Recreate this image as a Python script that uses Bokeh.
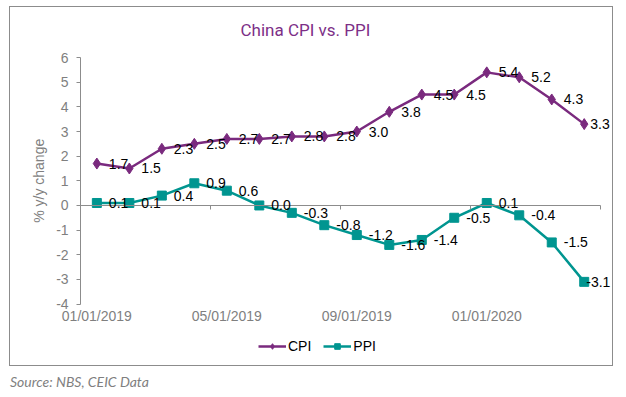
import math
from bokeh.plotting import figure
from bokeh.models import (ColumnDataSource, Range1d, FixedTicker, LinearAxis, Legend,
                          LegendItem, Div, LabelSet, Label)
from bokeh.layouts import column
from bokeh.embed import file_html
from bokeh.resources import INLINE
from bokeh.core.properties import value

# ---- data ----
months = ["2019-01", "2019-02", "2019-03", "2019-04", "2019-05", "2019-06", "2019-07", "2019-08",
          "2019-09", "2019-10", "2019-11", "2019-12", "2020-01", "2020-02", "2020-03", "2020-04"]
cpi = [1.7, 1.5, 2.3, 2.5, 2.7, 2.7, 2.8, 2.8, 3.0, 3.8, 4.5, 4.5, 5.4, 5.2, 4.3, 3.3]
ppi = [0.1, 0.1, 0.4, 0.9, 0.6, 0.0, -0.3, -0.8, -1.2, -1.6, -1.4, -0.5, 0.1, -0.4, -1.5, -3.1]
x_tick_labels = ["01/01/2019", "05/01/2019", "09/01/2019", "01/01/2020"]
y_ticks = [-4, -3, -2, -1, 0, 1, 2, 3, 4, 5, 6]

CPI_COLOR = "#7A2A7E"
PPI_COLOR = "#009590"
GRAY = "#7f7f7f"
AXIS_GRAY = "#8c8c8c"
FONT = "Liberation Sans"

n = len(months)
xs = list(range(n))
ymin, ymax = min(y_ticks), max(y_ticks)
x_left = -0.5  # left edge of first category, where the value axis sits

# label offsets (px): the last labels are pulled inside the chart box, as in the source
cpi_off = [12] * (n - 1) + [6]
ppi_off = [12] * (n - 1) + [2]
src = ColumnDataSource(dict(
    x=xs, cpi=cpi, ppi=ppi,
    cpi_lbl=["%.1f" % v for v in cpi],
    ppi_lbl=["%.1f" % v for v in ppi],
    cpi_off=cpi_off, ppi_off=ppi_off,
))
label_pos = list(range(0, n, 4))
xtick_src = ColumnDataSource(dict(x=label_pos, y=[ymin] * len(label_pos), t=x_tick_labels))
ytick_src = ColumnDataSource(dict(x=[x_left] * len(y_ticks), y=y_ticks,
                                  t=[str(t) for t in y_ticks]))

p = figure(width=604, height=360, output_backend="svg", toolbar_location=None,
           x_range=Range1d(-2.35, n - 0.5 + 0.37), y_range=Range1d(ymin - 2.25, ymax + 0.49),
           x_axis_location=None,
           min_border_left=10, min_border_right=2, min_border_top=38, min_border_bottom=8)
p.outline_line_color = None
p.xgrid.visible = False
p.ygrid.visible = False
p.styles = {"border": "1px solid #8c8c8c"}

# title
p.title.text = "China CPI vs. PPI"
p.title.align = "left"
p.title.vertical_align = "middle"
p.title.text_font = "Roboto"
p.title.text_font_size = "17px"
p.title.text_font_style = "normal"
p.title.text_color = "#7D2F87"
p.title.offset = 220

# value axis line + ticks (labels drawn below as text through the same scale)
p.yaxis.fixed_location = x_left
p.yaxis.ticker = FixedTicker(ticks=y_ticks)
p.yaxis.bounds = (ymin, ymax)
p.yaxis.axis_line_color = AXIS_GRAY
p.yaxis.major_tick_line_color = AXIS_GRAY
p.yaxis.major_tick_out = 4
p.yaxis.major_tick_in = 0
p.yaxis.minor_tick_line_color = None
p.yaxis.major_label_text_font_size = "1px"
p.yaxis.major_label_text_color = None
p.yaxis.major_label_standoff = 0

p.add_layout(LabelSet(x="x", y="y", text="t", source=ytick_src, x_offset=-12,
                      text_align="right", text_baseline="middle", text_font=value(FONT),
                      text_font_size="14px", text_color=GRAY))
p.add_layout(Label(x=x_left, y=(ymin + ymax) / 2, x_offset=-42, text="% y/y change",
                   angle=math.pi / 2, text_align="center", text_baseline="middle",
                   text_font=FONT, text_font_size="14px", text_color=GRAY))

# zero-line category axis with boundary ticks
bounds = [i - 0.5 for i in range(0, n + 1, 4)]
zax = LinearAxis(fixed_location=0, ticker=FixedTicker(ticks=bounds), bounds=(-0.5, n - 0.5))
zax.axis_line_color = AXIS_GRAY
zax.major_tick_line_color = AXIS_GRAY
zax.major_tick_out = 4
zax.major_tick_in = 0
zax.minor_tick_line_color = None
zax.major_label_text_font_size = "1px"
zax.major_label_text_color = None
zax.major_label_standoff = 0
p.add_layout(zax, "below")

# category tick labels below the -4 line
p.add_layout(LabelSet(x="x", y="y", text="t", source=xtick_src, y_offset=-12,
                      text_align="center", text_baseline="middle", text_font=value(FONT),
                      text_font_size="14px", text_color=GRAY))

# series
l1 = p.line("x", "cpi", source=src, line_color=CPI_COLOR, line_width=2.5)
m1 = p.scatter("x", "cpi", source=src, marker="diamond", size=11, fill_color=CPI_COLOR,
               line_color=CPI_COLOR)
l2 = p.line("x", "ppi", source=src, line_color=PPI_COLOR, line_width=2.5)
m2 = p.scatter("x", "ppi", source=src, marker="square", size=9, fill_color=PPI_COLOR,
               line_color=PPI_COLOR)

for col, ycol, off in (("cpi_lbl", "cpi", "cpi_off"), ("ppi_lbl", "ppi", "ppi_off")):
    p.add_layout(LabelSet(x="x", y=ycol, text=col, source=src, x_offset=off,
                          text_baseline="middle", text_font=value(FONT),
                          text_font_size="14px", text_color="black"))

legend = Legend(items=[LegendItem(label="CPI", renderers=[l1, m1]),
                       LegendItem(label="PPI", renderers=[l2, m2])],
                orientation="horizontal", location=(238, 5))
legend.border_line_color = None
legend.background_fill_alpha = 0
legend.glyph_width = 28
legend.glyph_height = 14
legend.label_standoff = 2
legend.spacing = 12
legend.padding = 0
legend.margin = 0
legend.label_text_font = FONT
legend.label_text_font_size = "14px"
legend.label_text_color = "black"
p.add_layout(legend, "center")

src_div = Div(text="Source: NBS, CEIC Data", width=300, height=20,
              styles={"font-family": "Lato", "font-style": "italic", "font-size": "14px",
                      "color": "#7f7f7f"},
              margin=(6, 0, 0, 1))

layout = column(p, src_div, spacing=0, margin=(6, 0, 0, 9))
open("out.html", "w").write(file_html(layout, INLINE))
